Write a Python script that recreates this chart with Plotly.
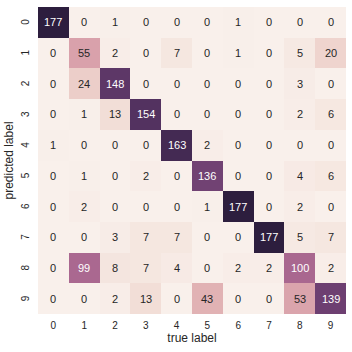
import numpy as np
import plotly.graph_objects as go

labels = [str(i) for i in range(10)]
# rows = predicted label, cols = true label
mat = [
    [177, 0, 1, 0, 0, 0, 1, 0, 0, 0],
    [0, 55, 2, 0, 7, 0, 1, 0, 5, 20],
    [0, 24, 148, 0, 0, 0, 0, 0, 3, 0],
    [0, 1, 13, 154, 0, 0, 0, 0, 2, 6],
    [1, 0, 0, 0, 163, 2, 0, 0, 0, 0],
    [0, 1, 0, 2, 0, 136, 0, 0, 4, 6],
    [0, 2, 0, 0, 0, 1, 177, 0, 2, 0],
    [0, 0, 3, 7, 7, 0, 0, 177, 5, 7],
    [0, 99, 8, 7, 4, 0, 2, 2, 100, 2],
    [0, 0, 2, 13, 0, 43, 0, 0, 53, 139],
]

# seaborn cubehelix_palette(light=.95, as_cmap=True)
def cubehelix(x, start=0.0, rot=0.4, gamma=1.0, hue=0.8):
    xg = x ** gamma
    a = hue * xg * (1 - xg) / 2
    phi = 2 * np.pi * (start / 3 + rot * x)
    r = xg + a * (-0.14861 * np.cos(phi) + 1.78277 * np.sin(phi))
    g = xg + a * (-0.29227 * np.cos(phi) - 0.90649 * np.sin(phi))
    b = xg + a * (1.97294 * np.cos(phi))
    return np.clip(np.array([r, g, b]), 0, 1)

n = 64
xs = np.linspace(0.95, 0.15, n)
cols = [cubehelix(v) for v in xs]
colorscale = [[i / (n - 1), "rgb(%d,%d,%d)" % tuple((c * 255).round())] for i, c in enumerate(cols)]

z = np.array(mat, dtype=float)
vmin, vmax = z.min(), z.max()

def rel_lum(c):
    c = np.where(c <= 0.03928, c / 12.92, ((c + 0.055) / 1.055) ** 2.4)
    return 0.2126 * c[0] + 0.7152 * c[1] + 0.0722 * c[2]

fig = go.Figure(go.Heatmap(
    z=mat, x=labels, y=labels, colorscale=colorscale, zmin=vmin, zmax=vmax,
    showscale=False, xgap=0, ygap=0, hoverinfo="skip",
))

FONT = "Liberation Sans, Arial, sans-serif"
TXT = "#262626"
annots = []
for i, row in enumerate(mat):
    for j, v in enumerate(row):
        t = (v - vmin) / (vmax - vmin)
        c = cubehelix(0.95 + (0.15 - 0.95) * t)
        color = TXT if rel_lum(c) > 0.408 else "white"
        annots.append(dict(x=labels[j], y=labels[i], text=str(v), showarrow=False,
                           font=dict(size=11, color=color, family=FONT)))

# rotated y tick labels
for lab in labels:
    annots.append(dict(x=0, xref="paper", y=lab, yref="y", text=lab, textangle=-90,
                       showarrow=False, xanchor="center", yanchor="middle", xshift=-12.5,
                       font=dict(size=10, color=TXT, family=FONT)))
# y axis title
annots.append(dict(x=0, xref="paper", y=0.5, yref="paper", text="predicted label",
                   textangle=-90, showarrow=False, xanchor="center", yanchor="middle",
                   xshift=-30, font=dict(size=12, color=TXT, family=FONT)))

fig.update_layout(
    template="none",
    width=352, height=352,
    margin=dict(l=38, r=6, t=7, b=38, pad=0),
    paper_bgcolor="white", plot_bgcolor="white",
    annotations=annots,
    font=dict(family=FONT, color=TXT),
    xaxis=dict(type="category", tickmode="array", tickvals=labels, ticktext=labels,
               title=dict(text="true label", font=dict(size=12, color=TXT), standoff=3),
               tickfont=dict(size=10, color=TXT), showgrid=False, zeroline=False,
               showline=False, ticks="outside", ticklen=2, tickcolor="rgba(0,0,0,0)"),
    yaxis=dict(type="category", tickmode="array", tickvals=labels,
               showticklabels=False, showgrid=False,
               zeroline=False, showline=False, ticks="", autorange="reversed"),
)

fig.write_html("out.html")
